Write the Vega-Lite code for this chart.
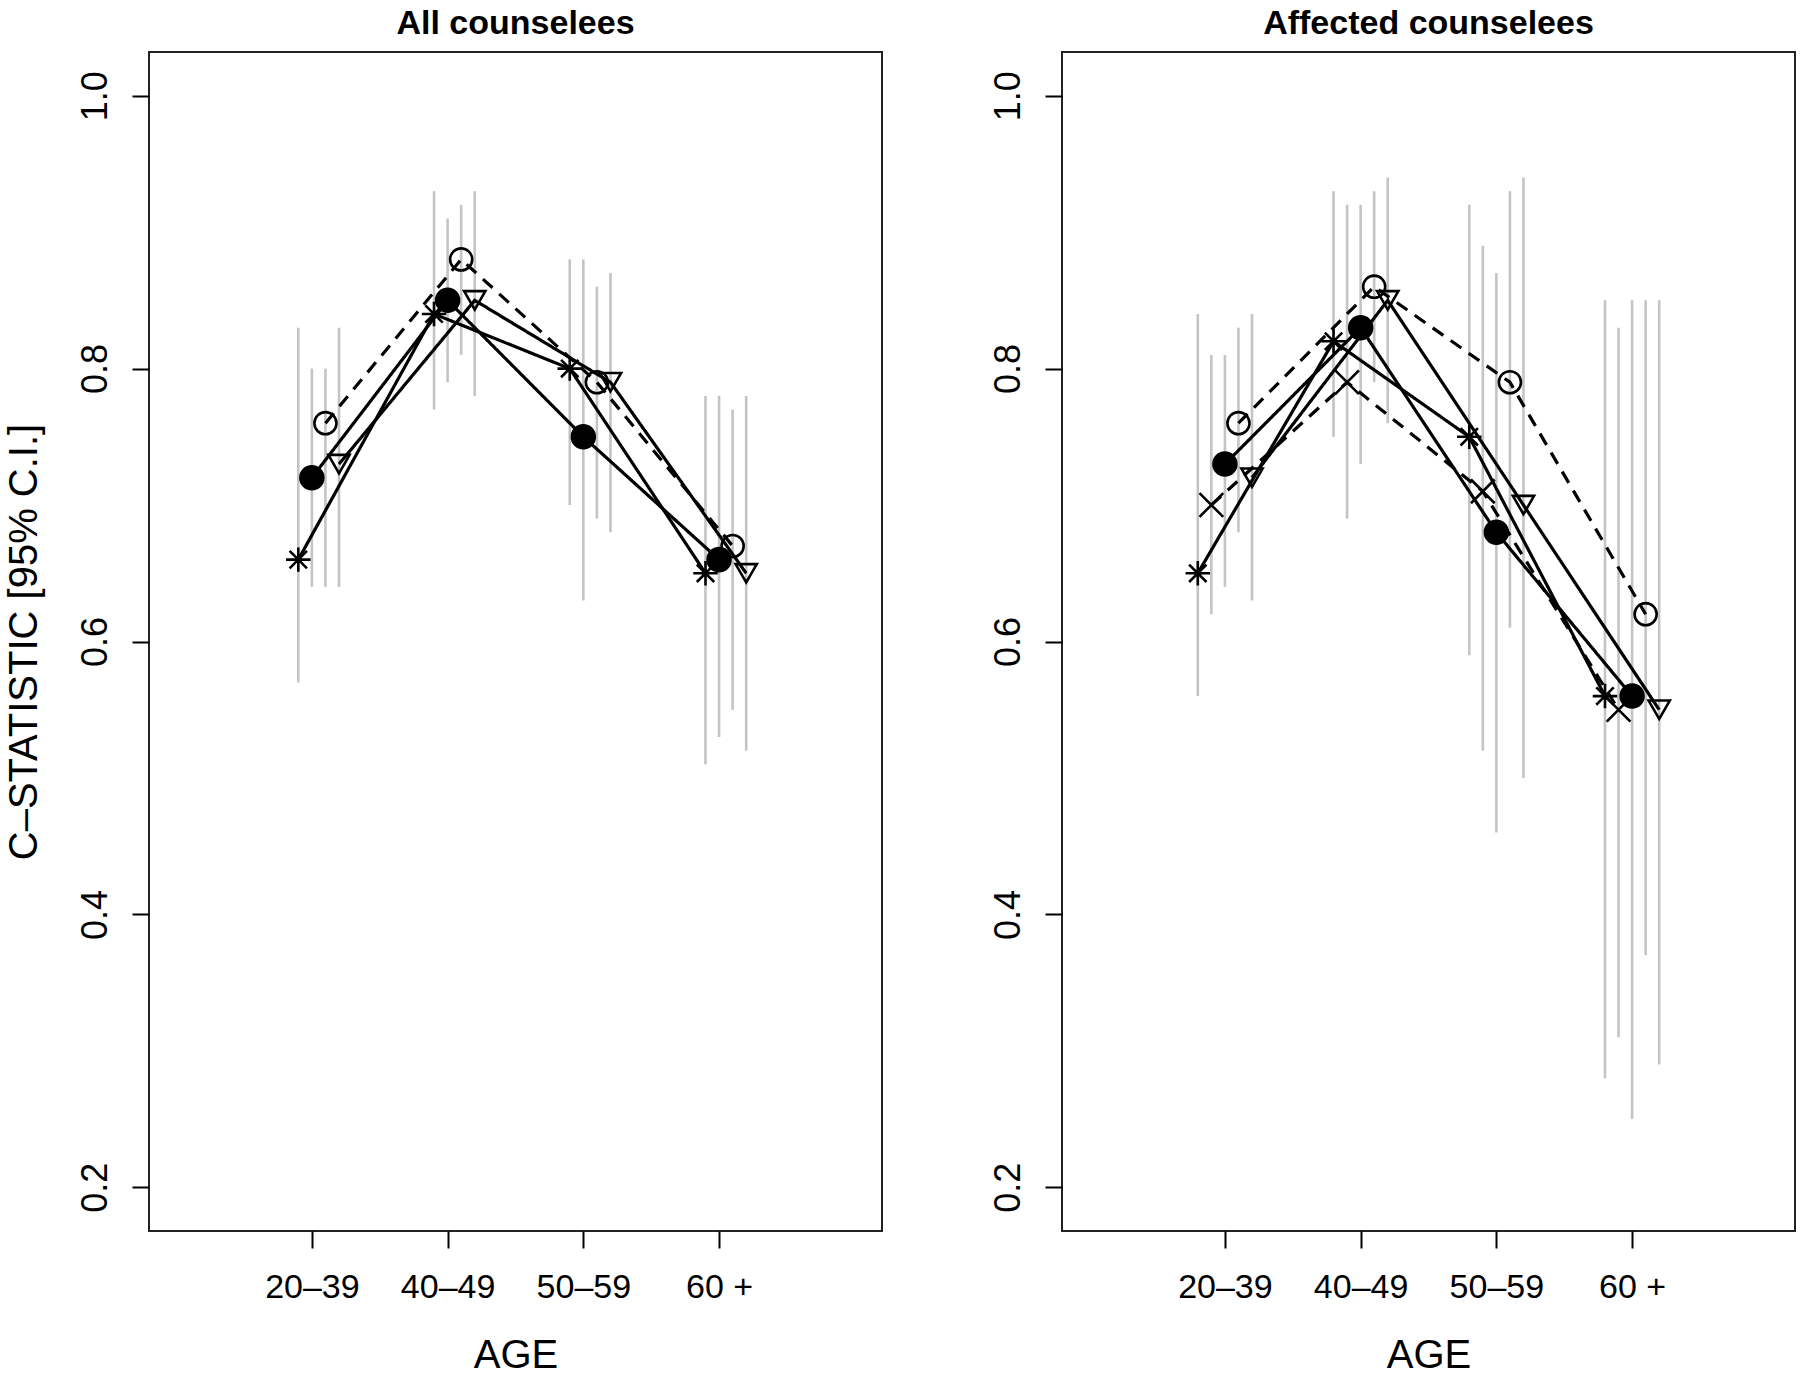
{
  "$schema": "https://vega.github.io/schema/vega-lite/v6.json",
  "autosize": {"type": "none"},
  "padding": {"left": 149, "top": 52, "right": 1651, "bottom": 1322},
  "background": "white",
  "bounds": "flush",
  "spacing": 180,
  "data": {"values": [
    {"panel": "All counselees", "series": "star", "age": "20–39", "cstat": 0.66, "lo": 0.57, "hi": 0.83},
    {"panel": "All counselees", "series": "star", "age": "40–49", "cstat": 0.84, "lo": 0.77, "hi": 0.93},
    {"panel": "All counselees", "series": "star", "age": "50–59", "cstat": 0.80, "lo": 0.70, "hi": 0.88},
    {"panel": "All counselees", "series": "star", "age": "60 +", "cstat": 0.65, "lo": 0.51, "hi": 0.78},
    {"panel": "All counselees", "series": "filled", "age": "20–39", "cstat": 0.72, "lo": 0.64, "hi": 0.80},
    {"panel": "All counselees", "series": "filled", "age": "40–49", "cstat": 0.85, "lo": 0.79, "hi": 0.91},
    {"panel": "All counselees", "series": "filled", "age": "50–59", "cstat": 0.75, "lo": 0.63, "hi": 0.88},
    {"panel": "All counselees", "series": "filled", "age": "60 +", "cstat": 0.66, "lo": 0.53, "hi": 0.78},
    {"panel": "All counselees", "series": "open", "age": "20–39", "cstat": 0.76, "lo": 0.64, "hi": 0.80},
    {"panel": "All counselees", "series": "open", "age": "40–49", "cstat": 0.88, "lo": 0.81, "hi": 0.92},
    {"panel": "All counselees", "series": "open", "age": "50–59", "cstat": 0.79, "lo": 0.69, "hi": 0.86},
    {"panel": "All counselees", "series": "open", "age": "60 +", "cstat": 0.67, "lo": 0.55, "hi": 0.77},
    {"panel": "All counselees", "series": "triangle", "age": "20–39", "cstat": 0.73, "lo": 0.64, "hi": 0.83},
    {"panel": "All counselees", "series": "triangle", "age": "40–49", "cstat": 0.85, "lo": 0.78, "hi": 0.93},
    {"panel": "All counselees", "series": "triangle", "age": "50–59", "cstat": 0.79, "lo": 0.68, "hi": 0.87},
    {"panel": "All counselees", "series": "triangle", "age": "60 +", "cstat": 0.65, "lo": 0.52, "hi": 0.78},
    {"panel": "Affected counselees", "series": "star", "age": "20–39", "cstat": 0.65, "lo": 0.56, "hi": 0.84},
    {"panel": "Affected counselees", "series": "star", "age": "40–49", "cstat": 0.82, "lo": 0.75, "hi": 0.93},
    {"panel": "Affected counselees", "series": "star", "age": "50–59", "cstat": 0.75, "lo": 0.59, "hi": 0.92},
    {"panel": "Affected counselees", "series": "star", "age": "60 +", "cstat": 0.56, "lo": 0.28, "hi": 0.85},
    {"panel": "Affected counselees", "series": "cross", "age": "20–39", "cstat": 0.70, "lo": 0.62, "hi": 0.81},
    {"panel": "Affected counselees", "series": "cross", "age": "40–49", "cstat": 0.79, "lo": 0.69, "hi": 0.92},
    {"panel": "Affected counselees", "series": "cross", "age": "50–59", "cstat": 0.71, "lo": 0.52, "hi": 0.89},
    {"panel": "Affected counselees", "series": "cross", "age": "60 +", "cstat": 0.55, "lo": 0.31, "hi": 0.83},
    {"panel": "Affected counselees", "series": "filled", "age": "20–39", "cstat": 0.73, "lo": 0.64, "hi": 0.81},
    {"panel": "Affected counselees", "series": "filled", "age": "40–49", "cstat": 0.83, "lo": 0.73, "hi": 0.92},
    {"panel": "Affected counselees", "series": "filled", "age": "50–59", "cstat": 0.68, "lo": 0.46, "hi": 0.87},
    {"panel": "Affected counselees", "series": "filled", "age": "60 +", "cstat": 0.56, "lo": 0.25, "hi": 0.85},
    {"panel": "Affected counselees", "series": "open", "age": "20–39", "cstat": 0.76, "lo": 0.68, "hi": 0.83},
    {"panel": "Affected counselees", "series": "open", "age": "40–49", "cstat": 0.86, "lo": 0.79, "hi": 0.93},
    {"panel": "Affected counselees", "series": "open", "age": "50–59", "cstat": 0.79, "lo": 0.61, "hi": 0.93},
    {"panel": "Affected counselees", "series": "open", "age": "60 +", "cstat": 0.62, "lo": 0.37, "hi": 0.85},
    {"panel": "Affected counselees", "series": "triangle", "age": "20–39", "cstat": 0.72, "lo": 0.63, "hi": 0.84},
    {"panel": "Affected counselees", "series": "triangle", "age": "40–49", "cstat": 0.85, "lo": 0.76, "hi": 0.94},
    {"panel": "Affected counselees", "series": "triangle", "age": "50–59", "cstat": 0.70, "lo": 0.50, "hi": 0.94},
    {"panel": "Affected counselees", "series": "triangle", "age": "60 +", "cstat": 0.55, "lo": 0.29, "hi": 0.85}
  ]},
  "resolve": {"scale": {"xOffset": "independent", "x": "independent", "y": "independent"}},
  "hconcat": [
    {
      "width": 733, "height": 1179,
      "title": {"text": "All counselees", "fontSize": 34, "fontWeight": "bold", "anchor": "middle", "baseline": "alphabetic", "offset": -16},
      "transform": [{"filter": "datum.panel === 'All counselees'"}],
      "encoding": {
        "x": {"field": "age", "type": "ordinal",
          "scale": {"type": "point", "domain": ["20–39", "40–49", "50–59", "60 +"], "range": [162.9, 570.1], "padding": 0},
          "axis": {"title": "AGE", "titleFontSize": 40, "titleFontWeight": "normal", "titleX": 366.5, "titleAlign": "center", "titleY": 136, "titleBaseline": "alphabetic", "labelFontSize": 34, "labelAngle": 0, "labelPadding": 22, "tickSize": 17, "tickWidth": 2, "domain": false, "grid": false}},
        "xOffset": {"field": "series", "type": "nominal",
          "scale": {"type": "point", "domain": ["star", "filled", "open", "triangle"], "range": [-13.6, 27.1], "padding": 0}}
      },
      "layer": [
        {
          "mark": {"type": "rule", "color": "#c4c4c4", "strokeWidth": 2.6},
          "encoding": {
            "y": {"field": "lo", "type": "quantitative", "scale": {"domain": [0.168, 1.032], "nice": false, "zero": false},
              "axis": {"title": "C–STATISTIC [95% C.I.]", "values": [0.2, 0.4, 0.6, 0.8, 1.0], "format": ".1f", "labelAngle": 270, "labelAlign": "center", "labelBaseline": "alphabetic", "labelPadding": 26, "tickSize": 17, "tickWidth": 2, "labelFontSize": 36, "labelFlush": false, "domain": false, "grid": false, "titleAngle": 270, "titleX": -125, "titleY": 589.5, "titleAlign": "center", "titleBaseline": "middle", "titleFontSize": 40, "titleFontWeight": "normal"}},
            "y2": {"field": "hi"}
          }
        },
        {
          "mark": {"type": "line", "color": "black", "strokeWidth": 3.2},
          "encoding": {
            "y": {"field": "cstat", "type": "quantitative", "scale": {"domain": [0.168, 1.032], "nice": false, "zero": false},
              "axis": {"title": "C–STATISTIC [95% C.I.]", "values": [0.2, 0.4, 0.6, 0.8, 1.0], "format": ".1f", "labelAngle": 270, "labelAlign": "center", "labelBaseline": "alphabetic", "labelPadding": 26, "tickSize": 17, "tickWidth": 2, "labelFontSize": 36, "labelFlush": false, "domain": false, "grid": false, "titleAngle": 270, "titleX": -125, "titleY": 589.5, "titleAlign": "center", "titleBaseline": "middle", "titleFontSize": 40, "titleFontWeight": "normal"}},
            "strokeDash": {"field": "series", "type": "nominal", "legend": null,
              "scale": {"domain": ["star", "cross", "filled", "open", "triangle"], "range": [[1, 0], [13, 9], [1, 0], [13, 9], [1, 0]]}}
          }
        },
        {
          "mark": {"type": "point", "filled": false, "stroke": "black", "strokeWidth": 2.6, "opacity": 1},
          "encoding": {
            "y": {"field": "cstat", "type": "quantitative", "scale": {"domain": [0.168, 1.032], "nice": false, "zero": false},
              "axis": {"title": "C–STATISTIC [95% C.I.]", "values": [0.2, 0.4, 0.6, 0.8, 1.0], "format": ".1f", "labelAngle": 270, "labelAlign": "center", "labelBaseline": "alphabetic", "labelPadding": 26, "tickSize": 17, "tickWidth": 2, "labelFontSize": 36, "labelFlush": false, "domain": false, "grid": false, "titleAngle": 270, "titleX": -125, "titleY": 589.5, "titleAlign": "center", "titleBaseline": "middle", "titleFontSize": 40, "titleFontWeight": "normal"}},
            "shape": {"field": "series", "type": "nominal", "legend": null,
              "scale": {"domain": ["star", "cross", "filled", "open", "triangle"], "range": ["M-1,0L1,0M0,-1L0,1M-0.71,-0.71L0.71,0.71M-0.71,0.71L0.71,-0.71", "M-1,-1L1,1M-1,1L1,-1", "circle", "circle", "triangle-down"]}},
            "fill": {"field": "series", "type": "nominal", "legend": null,
              "scale": {"domain": ["star", "cross", "filled", "open", "triangle"], "range": ["transparent", "transparent", "black", "transparent", "transparent"]}},
            "size": {"field": "series", "type": "nominal", "legend": null,
              "scale": {"domain": ["star", "cross", "filled", "open", "triangle"], "range": [600, 450, 640, 650, 1000]}}
          }
        }
      ]
    },
    {
      "width": 733, "height": 1179,
      "title": {"text": "Affected counselees", "fontSize": 34, "fontWeight": "bold", "anchor": "middle", "baseline": "alphabetic", "offset": -16},
      "transform": [{"filter": "datum.panel === 'Affected counselees'"}],
      "encoding": {
        "x": {"field": "age", "type": "ordinal",
          "scale": {"type": "point", "domain": ["20–39", "40–49", "50–59", "60 +"], "range": [162.9, 570.1], "padding": 0},
          "axis": {"title": "AGE", "titleFontSize": 40, "titleFontWeight": "normal", "titleX": 366.5, "titleAlign": "center", "titleY": 136, "titleBaseline": "alphabetic", "labelFontSize": 34, "labelAngle": 0, "labelPadding": 22, "tickSize": 17, "tickWidth": 2, "domain": false, "grid": false}},
        "xOffset": {"field": "series", "type": "nominal",
          "scale": {"type": "point", "domain": ["star", "cross", "filled", "open", "triangle"], "range": [-27.1, 27.1], "padding": 0}}
      },
      "layer": [
        {
          "mark": {"type": "rule", "color": "#c4c4c4", "strokeWidth": 2.6},
          "encoding": {
            "y": {"field": "lo", "type": "quantitative", "scale": {"domain": [0.168, 1.032], "nice": false, "zero": false},
              "axis": {"title": null, "values": [0.2, 0.4, 0.6, 0.8, 1.0], "format": ".1f", "labelAngle": 270, "labelAlign": "center", "labelBaseline": "alphabetic", "labelPadding": 26, "tickSize": 17, "tickWidth": 2, "labelFontSize": 36, "labelFlush": false, "domain": false, "grid": false}},
            "y2": {"field": "hi"}
          }
        },
        {
          "mark": {"type": "line", "color": "black", "strokeWidth": 3.2},
          "encoding": {
            "y": {"field": "cstat", "type": "quantitative", "scale": {"domain": [0.168, 1.032], "nice": false, "zero": false},
              "axis": {"title": null, "values": [0.2, 0.4, 0.6, 0.8, 1.0], "format": ".1f", "labelAngle": 270, "labelAlign": "center", "labelBaseline": "alphabetic", "labelPadding": 26, "tickSize": 17, "tickWidth": 2, "labelFontSize": 36, "labelFlush": false, "domain": false, "grid": false}},
            "strokeDash": {"field": "series", "type": "nominal", "legend": null,
              "scale": {"domain": ["star", "cross", "filled", "open", "triangle"], "range": [[1, 0], [13, 9], [1, 0], [13, 9], [1, 0]]}}
          }
        },
        {
          "mark": {"type": "point", "filled": false, "stroke": "black", "strokeWidth": 2.6, "opacity": 1},
          "encoding": {
            "y": {"field": "cstat", "type": "quantitative", "scale": {"domain": [0.168, 1.032], "nice": false, "zero": false},
              "axis": {"title": null, "values": [0.2, 0.4, 0.6, 0.8, 1.0], "format": ".1f", "labelAngle": 270, "labelAlign": "center", "labelBaseline": "alphabetic", "labelPadding": 26, "tickSize": 17, "tickWidth": 2, "labelFontSize": 36, "labelFlush": false, "domain": false, "grid": false}},
            "shape": {"field": "series", "type": "nominal", "legend": null,
              "scale": {"domain": ["star", "cross", "filled", "open", "triangle"], "range": ["M-1,0L1,0M0,-1L0,1M-0.71,-0.71L0.71,0.71M-0.71,0.71L0.71,-0.71", "M-1,-1L1,1M-1,1L1,-1", "circle", "circle", "triangle-down"]}},
            "fill": {"field": "series", "type": "nominal", "legend": null,
              "scale": {"domain": ["star", "cross", "filled", "open", "triangle"], "range": ["transparent", "transparent", "black", "transparent", "transparent"]}},
            "size": {"field": "series", "type": "nominal", "legend": null,
              "scale": {"domain": ["star", "cross", "filled", "open", "triangle"], "range": [600, 450, 640, 650, 1000]}}
          }
        }
      ]
    }
  ],
  "config": {
    "font": "Liberation Sans, Arial, sans-serif",
    "view": {"stroke": "#222222", "strokeWidth": 2},
    "axis": {"labelFont": "Liberation Sans, Arial, sans-serif", "titleFont": "Liberation Sans, Arial, sans-serif", "labelColor": "black", "titleColor": "black", "tickColor": "black"},
    "title": {"font": "Liberation Sans, Arial, sans-serif", "color": "black"}
  }
}
